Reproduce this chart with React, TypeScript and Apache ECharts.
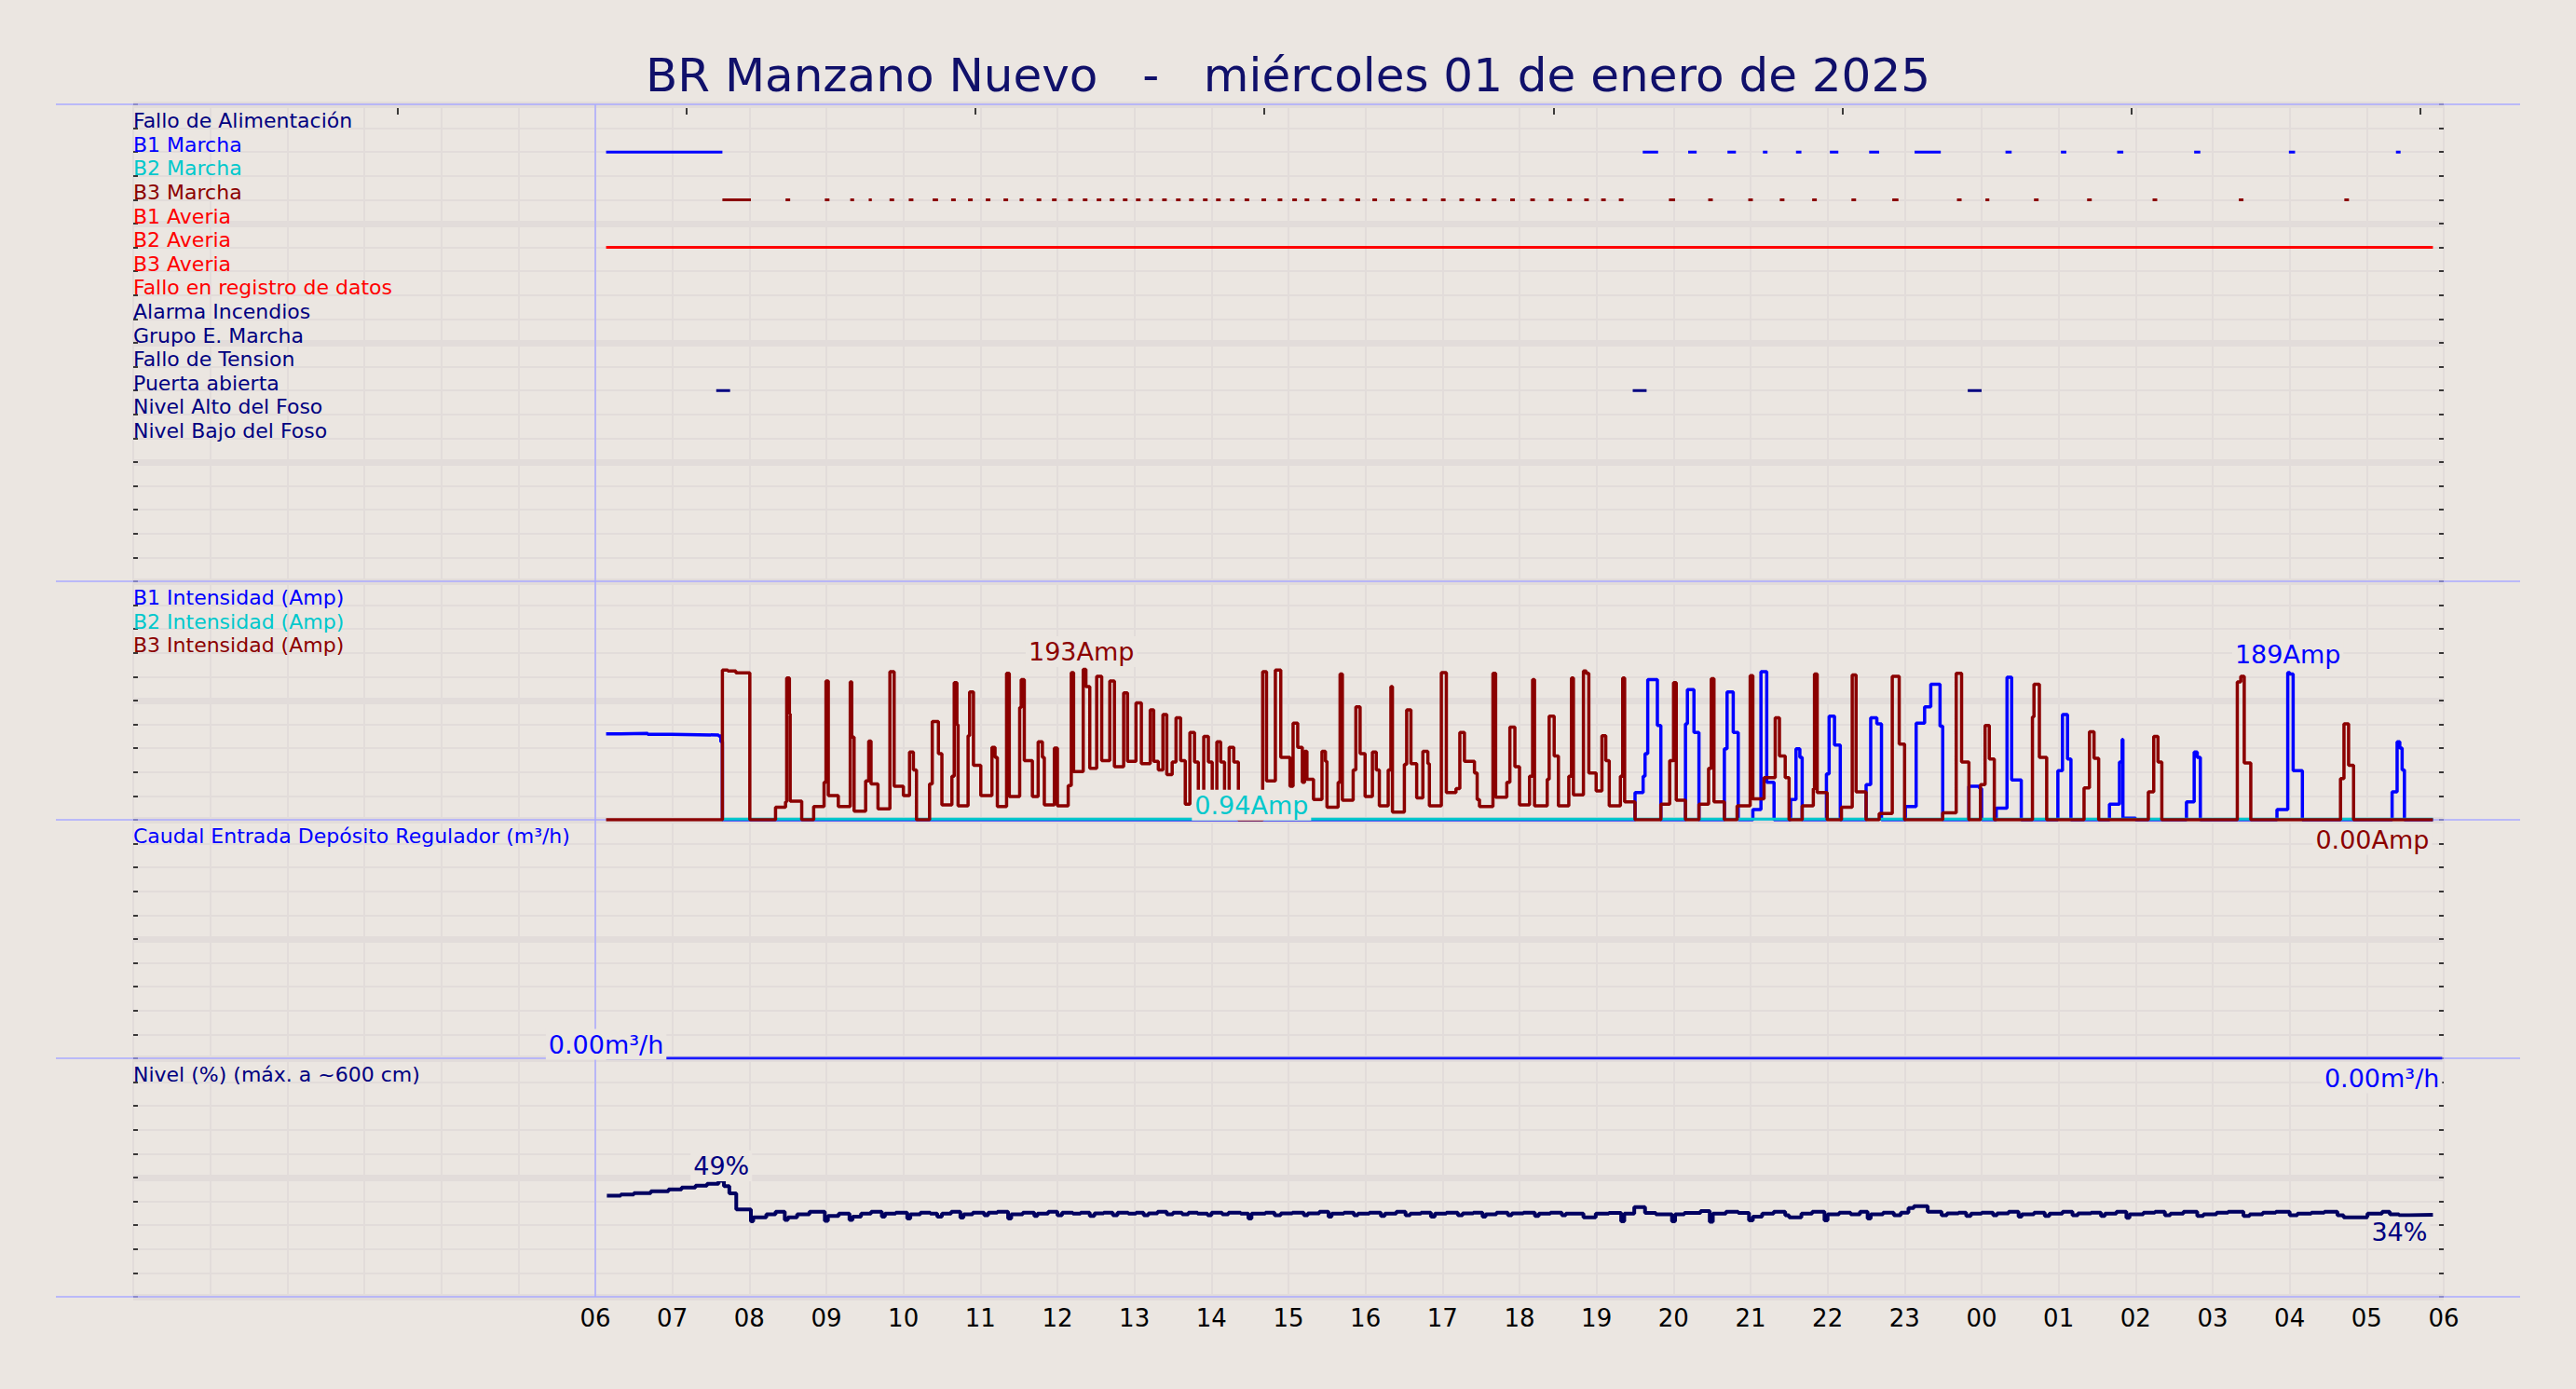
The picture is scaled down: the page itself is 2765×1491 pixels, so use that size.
import React, { useEffect, useRef } from "react";
import * as echarts from "echarts";

const FONT = "DejaVu Sans";
const BG = "#ebe6e1";
const GRID = "#e2dcda";
const SEP = "#aaaaff";
const NAVY = "#000080";
const BLUE = "#0000ff";
const CYAN = "#00c8cc";
const DARKRED = "#8b0000";
const RED = "#ff0000";
const TITLE_COLOR = "#10106a";

const TITLE = "BR Manzano Nuevo   -   miércoles 01 de enero de 2025";

// x axis: hours since 00:00 (0..30)
const xTickLabels = ["06", "07", "08", "09", "10", "11", "12", "13", "14", "15", "16", "17", "18", "19", "20", "21", "22", "23", "00", "01", "02", "03", "04", "05", "06"];
const topTickHours = [3.435, 7.186, 10.937, 14.688, 18.44, 22.19, 25.94, 29.69];

const statusLabels = ["Fallo de Alimentación", "B1 Marcha", "B2 Marcha", "B3 Marcha", "B1 Averia", "B2 Averia", "B3 Averia", "Fallo en registro de datos", "Alarma Incendios", "Grupo E. Marcha", "Fallo de Tension", "Puerta abierta", "Nivel Alto del Foso", "Nivel Bajo del Foso"];
const statusColors = [NAVY, BLUE, CYAN, DARKRED, RED, RED, RED, RED, NAVY, NAVY, NAVY, NAVY, NAVY, NAVY];

// status segments [start, end] in hours
const b1MarchaSegs = [[6.14, 7.65], [19.6, 19.8], [20.19, 20.3], [20.7, 20.81], [21.16, 21.22], [21.59, 21.66], [22.03, 22.14], [22.54, 22.67], [23.13, 23.47], [24.31, 24.39], [25.03, 25.1], [25.76, 25.84], [26.76, 26.84], [27.99, 28.07], [29.38, 29.44]];
const b3MarchaSegs = [[7.65, 8.02], [8.47, 8.53], [8.98, 9.04], [9.31, 9.36], [9.55, 9.59], [9.82, 9.88], [10.07, 10.13], [10.38, 10.45], [10.62, 10.68], [10.84, 10.9], [11.07, 11.13], [11.3, 11.36], [11.51, 11.56], [11.73, 11.79], [11.93, 11.99], [12.14, 12.2], [12.33, 12.39], [12.51, 12.57], [12.68, 12.74], [12.85, 12.91], [13.02, 13.08], [13.19, 13.24], [13.36, 13.42], [13.54, 13.6], [13.71, 13.77], [13.89, 13.95], [14.06, 14.12], [14.24, 14.3], [14.43, 14.49], [14.65, 14.71], [14.86, 14.92], [15.05, 15.11], [15.21, 15.27], [15.43, 15.49], [15.66, 15.72], [15.87, 15.93], [16.09, 16.15], [16.32, 16.38], [16.53, 16.59], [16.74, 16.8], [16.98, 17.04], [17.22, 17.28], [17.43, 17.49], [17.64, 17.7], [17.88, 17.94], [18.14, 18.2], [18.38, 18.44], [18.62, 18.68], [18.84, 18.9], [19.06, 19.12], [19.29, 19.35], [19.94, 20.02], [20.45, 20.51], [20.97, 21.03], [21.38, 21.44], [21.8, 21.86], [22.31, 22.37], [22.84, 22.92], [23.68, 23.74], [24.05, 24.1], [24.68, 24.74], [25.37, 25.43], [26.22, 26.28], [27.34, 27.4], [28.71, 28.77]];
const b2AveriaSegs = [[6.14, 29.86]];
const puertaSegs = [[7.57, 7.75], [19.47, 19.65], [23.82, 24.0]];

const intensityLabels = ["B1 Intensidad (Amp)", "B2 Intensidad (Amp)", "B3 Intensidad (Amp)"];
const intensityColors = [BLUE, CYAN, DARKRED];
const caudalLabel = "Caudal Entrada Depósito Regulador (m³/h)";
const nivelLabel = "Nivel (%) (máx. a ~600 cm)";

// intensity steps [hour, amps]
const b1Amp = [[6.14, 110.2], [6.33, 110.9], [6.68, 109.6], [6.99, 108.8], [7.6, 107.5], [7.63, 100], [7.65, 0],
  [19.5, 35], [19.605, 56], [19.63, 85], [19.665, 180], [19.79, 121], [19.835, 0],
  [20.155, 123], [20.18, 167], [20.265, 112], [20.33, 0],
  [20.66, 91], [20.695, 164], [20.775, 112], [20.84, 0],
  [21.03, 13], [21.135, 190], [21.21, 48], [21.305, 0],
  [21.52, 26], [21.59, 91], [21.64, 80], [21.67, 0],
  [21.985, 59], [22.02, 133], [22.09, 96], [22.165, 0],
  [22.5, 45], [22.56, 131], [22.64, 123], [22.7, 0],
  [23.01, 17], [23.15, 124], [23.26, 145], [23.34, 174], [23.46, 120], [23.495, 0],
  [23.835, 43], [23.975, 40], [24.0, 0],
  [24.19, 15], [24.33, 183], [24.39, 51], [24.515, 0],
  [24.99, 63], [25.05, 135], [25.115, 78], [25.16, 0],
  [25.66, 20], [25.79, 74], [25.825, 103], [25.835, 2], [26.0, 0],
  [26.66, 23], [26.76, 87], [26.8, 80], [26.84, 0],
  [27.835, 13], [27.975, 189], [28.0, 187], [28.045, 63], [28.165, 0],
  [29.33, 36], [29.395, 100], [29.43, 92], [29.46, 64], [29.49, 0], [29.86, 0]];
const b2Amp = [[7.65, 0.94], [29.86, 0.94]];
const b3Amp = [[6.14, 0], [7.65, 192], [7.72, 191], [7.825, 188.6], [8.006, 0],
  [8.34, 16], [8.47, 23], [8.485, 182], [8.52, 136], [8.53, 24], [8.68, 0],
  [8.835, 17], [8.97, 48], [8.995, 178], [9.025, 31], [9.155, 17], [9.31, 177], [9.33, 106], [9.36, 11], [9.51, 50], [9.55, 101], [9.58, 46], [9.67, 14], [9.825, 190], [9.88, 43], [10.0, 31], [10.08, 87], [10.13, 64], [10.17, 0],
  [10.34, 46], [10.375, 126], [10.455, 85], [10.5, 19], [10.63, 56], [10.66, 176], [10.695, 122], [10.71, 18], [10.84, 108], [10.86, 164], [10.91, 70], [11.005, 31], [11.15, 93], [11.19, 80], [11.22, 17], [11.34, 188], [11.375, 30], [11.51, 144], [11.53, 180], [11.57, 76], [11.675, 30], [11.75, 100], [11.805, 80], [11.83, 19], [11.96, 92], [12.0, 18], [12.14, 44], [12.18, 189], [12.21, 62], [12.335, 193], [12.37, 171], [12.42, 66], [12.51, 184], [12.575, 76], [12.68, 178], [12.74, 68], [12.86, 163], [12.91, 75], [13.02, 150], [13.09, 72], [13.205, 141], [13.25, 75], [13.31, 64], [13.37, 135], [13.42, 58], [13.49, 74], [13.54, 131], [13.6, 76], [13.66, 20], [13.72, 112], [13.78, 74], [13.83, 20], [13.9, 107], [13.96, 74], [14.01, 20], [14.07, 100], [14.12, 74], [14.17, 20], [14.23, 93], [14.29, 74], [14.35, 0],
  [14.665, 190], [14.715, 50], [14.83, 192], [14.9, 80], [15.02, 43], [15.06, 124], [15.12, 93], [15.18, 48], [15.21, 88], [15.24, 52], [15.325, 26], [15.435, 88], [15.48, 75], [15.5, 16], [15.645, 48], [15.67, 187], [15.7, 25], [15.84, 64], [15.875, 145], [15.93, 85], [15.995, 30], [16.09, 87], [16.14, 64], [16.18, 18], [16.295, 64], [16.33, 171], [16.35, 10], [16.505, 71], [16.535, 141], [16.59, 72], [16.665, 28], [16.745, 88], [16.81, 72], [16.83, 18], [16.985, 189], [17.05, 35], [17.175, 40], [17.225, 112], [17.285, 75], [17.415, 60], [17.45, 26], [17.48, 17], [17.655, 188], [17.69, 29], [17.835, 48], [17.875, 119], [17.94, 68], [18.0, 19], [18.13, 56], [18.17, 180], [18.195, 18], [18.36, 52], [18.385, 133], [18.45, 82], [18.505, 18], [18.64, 56], [18.675, 182], [18.7, 32], [18.83, 191], [18.865, 188], [18.9, 60], [18.995, 37], [19.07, 108], [19.12, 76], [19.165, 18], [19.31, 56], [19.34, 182], [19.365, 23], [19.5, 0],
  [19.835, 20], [19.95, 76], [20.0, 176], [20.035, 25], [20.155, 0],
  [20.33, 20], [20.455, 66], [20.49, 181], [20.525, 23], [20.66, 0],
  [20.825, 18], [20.995, 185], [21.03, 27], [21.175, 54], [21.32, 131], [21.375, 82], [21.45, 54], [21.5, 0],
  [21.67, 18], [21.815, 40], [21.83, 187], [21.865, 35], [21.995, 0],
  [22.18, 16], [22.32, 186], [22.37, 36], [22.5, 0],
  [22.67, 8], [22.84, 184], [22.93, 97], [23.0, 0],
  [23.495, 9], [23.67, 188], [23.74, 74], [23.835, 0],
  [23.985, 45], [24.045, 121], [24.1, 78], [24.165, 0],
  [24.66, 132], [24.68, 174], [24.75, 80], [24.845, 0],
  [25.33, 41], [25.4, 113], [25.46, 79], [25.52, 0],
  [26.165, 36], [26.235, 107], [26.29, 74], [26.34, 0],
  [27.32, 177], [27.365, 184], [27.41, 73], [27.495, 0],
  [28.66, 53], [28.705, 123], [28.765, 70], [28.83, 0],
  [29.86, 0]];

const caudal = [[6.14, 0], [29.98, 0]];

const nivel = [[6.15, 42.4], [6.33, 42.9], [6.5, 43.5], [6.72, 44.2], [6.95, 45.0], [7.12, 45.8], [7.3, 46.6], [7.45, 47.4], [7.6, 48.6], [7.67, 46.4], [7.74, 43.4], [7.83, 36.6], [8.02, 31.6], [8.05, 33.3], [8.22, 34.6], [8.34, 35.6], [8.46, 32.2], [8.5, 33.3], [8.62, 34.6], [8.78, 35.6], [8.98, 31.8], [9.02, 33.9], [9.16, 34.9], [9.3, 32.2], [9.34, 33.6], [9.45, 34.9], [9.58, 35.6], [9.72, 33.6], [9.76, 34.9], [9.9, 35.3], [10.05, 32.8], [10.09, 34.6], [10.22, 35.3], [10.35, 34.9], [10.44, 33.6], [10.5, 34.9], [10.62, 35.6], [10.74, 33.2], [10.78, 34.6], [10.9, 35.3], [11.05, 34.2], [11.1, 35.3], [11.22, 35.6], [11.36, 32.8], [11.4, 34.6], [11.55, 35.3], [11.7, 33.9], [11.74, 34.9], [11.88, 35.6], [12.0, 34.2], [12.06, 35.3], [12.2, 34.9], [12.3, 35.3], [12.42, 33.9], [12.48, 35.0], [12.6, 35.3], [12.72, 34.2], [12.78, 35.3], [12.92, 34.9], [13.02, 35.3], [13.12, 34.2], [13.18, 35.0], [13.3, 35.6], [13.42, 34.6], [13.5, 35.3], [13.62, 34.6], [13.7, 35.3], [13.82, 34.9], [13.95, 34.2], [14.0, 35.3], [14.14, 34.6], [14.22, 35.3], [14.38, 34.9], [14.48, 32.8], [14.52, 34.9], [14.7, 35.3], [14.82, 34.2], [14.9, 35.0], [15.05, 35.3], [15.2, 34.2], [15.25, 35.0], [15.4, 35.6], [15.52, 33.6], [15.56, 34.9], [15.72, 35.3], [15.85, 34.2], [15.9, 34.9], [16.05, 35.3], [16.2, 33.9], [16.25, 34.9], [16.4, 35.6], [16.52, 34.2], [16.58, 34.9], [16.72, 35.3], [16.85, 33.6], [16.9, 34.9], [17.05, 35.3], [17.2, 34.2], [17.26, 35.0], [17.4, 35.3], [17.52, 33.6], [17.56, 34.6], [17.7, 35.3], [17.85, 34.2], [17.9, 35.0], [18.05, 35.3], [18.2, 33.9], [18.25, 34.9], [18.4, 35.3], [18.55, 34.2], [18.6, 34.9], [18.83, 33.3], [18.99, 34.9], [19.16, 35.2], [19.32, 31.6], [19.36, 34.9], [19.49, 37.6], [19.63, 35.2], [19.77, 34.6], [19.98, 31.6], [20.02, 34.6], [20.14, 35.2], [20.35, 35.9], [20.47, 31.4], [20.51, 34.9], [20.68, 35.6], [20.84, 35.2], [20.98, 32.0], [21.03, 33.6], [21.15, 34.9], [21.3, 35.6], [21.45, 34.2], [21.5, 33.3], [21.66, 34.9], [21.8, 35.6], [21.96, 32.0], [22.0, 34.6], [22.15, 35.3], [22.3, 34.6], [22.42, 35.6], [22.52, 32.8], [22.56, 34.6], [22.72, 35.3], [22.86, 34.2], [22.95, 35.3], [23.05, 37.2], [23.12, 38.0], [23.3, 35.6], [23.48, 34.2], [23.55, 35.0], [23.7, 35.3], [23.8, 33.9], [23.86, 34.9], [24.0, 35.3], [24.15, 34.2], [24.2, 35.0], [24.35, 35.6], [24.48, 33.6], [24.52, 34.6], [24.68, 35.3], [24.82, 33.9], [24.88, 34.9], [25.05, 35.6], [25.18, 34.2], [25.25, 35.0], [25.42, 35.3], [25.55, 33.9], [25.6, 34.9], [25.75, 35.6], [25.88, 33.1], [25.92, 34.6], [26.1, 35.3], [26.25, 35.6], [26.38, 34.2], [26.45, 34.9], [26.62, 35.6], [26.8, 33.9], [26.88, 34.6], [27.05, 35.3], [27.2, 35.6], [27.4, 33.9], [27.48, 34.6], [27.65, 35.3], [27.82, 35.6], [28.0, 34.2], [28.1, 34.9], [28.28, 35.3], [28.45, 35.6], [28.62, 34.2], [28.7, 33.3], [29.01, 34.9], [29.2, 35.6], [29.3, 34.6], [29.42, 34.2], [29.55, 34.4], [29.86, 34.4]];

// annotation texts anchored at data points
const annotations = [
  { text: "193Amp", color: DARKRED, grid: 1, data: b3Amp, t: 12.335, align: "center", dx: -2, dy: -19 },
  { text: "189Amp", color: BLUE, grid: 1, data: b1Amp, t: 27.975, align: "center", dx: 0, dy: -19 },
  { text: "0.94Amp", color: CYAN, grid: 1, data: b2Amp, t: 14.52, align: "center", dx: 0, dy: -15 },
  { text: "0.00Amp", color: DARKRED, grid: 1, data: b3Amp, t: 29.86, align: "right", dx: -1, dy: 21 },
  { text: "0.00m³/h", color: BLUE, grid: 2, data: caudal, t: 6.14, align: "center", dx: 0, dy: -15 },
  { text: "0.00m³/h", color: BLUE, grid: 2, data: caudal, t: 29.98, align: "right", dx: 0, dy: 21 },
  { text: "49%", color: NAVY, grid: 3, data: nivel, t: 7.6, align: "center", dx: 3, dy: -16 },
  { text: "34%", color: NAVY, grid: 3, data: nivel, t: 29.86, align: "right", dx: -3, dy: 19 },
];

// layout
const W = 2765;
const H = 1491;
const LEFT = 143;
const RIGHT = 142;
const UNIT = 25.6;
const gridTops = [112, 624, 880, 1136];
const gridHeights = [512, 256, 256, 256];
const yRanges = [
  { min: -1, max: 19, interval: 1, thick: 5, inverse: true },
  { min: 0, max: 306, interval: 30.6, thick: 153, inverse: false },
  { min: 0, max: 10, interval: 1, thick: 5, inverse: false },
  { min: 0, max: 100, interval: 10, thick: 50, inverse: false },
];

const valueAt = (data: number[][], t: number) => {
  let v = data[0][1];
  for (const [x, y] of data) if (x <= t + 1e-9) v = y;
  return v;
};

const segPoints = (segs: number[][], row: number) => {
  const out: (number | null)[][] = [];
  segs.forEach(([s, e]) => {
    out.push([s, row], [e, row], [e, null]);
  });
  return out;
};

function buildOption(): any {
  const grids = gridTops.map((top, i) => ({ left: LEFT, right: RIGHT, top, height: gridHeights[i], containLabel: false, show: false }));
  const xAxes: any[] = gridTops.map((_, g) => ({
    type: "value",
    gridIndex: g,
    min: 0,
    max: 30,
    interval: 1,
    axisLine: { show: false, onZero: false },
    axisTick: { show: false },
    splitLine: { show: true, lineStyle: { color: GRID, width: 2 } },
    axisLabel:
      g === 3
        ? {
            show: true,
            margin: 10,
            fontSize: 26,
            fontFamily: FONT,
            color: "#000",
            showMaxLabel: true,
            showMinLabel: true,
            formatter: (v: number) => (v >= 6 ? xTickLabels[Math.round(v) - 6] : ""),
          }
        : { show: false },
  }));
  xAxes.push({
    type: "value",
    gridIndex: 0,
    position: "top",
    min: 0,
    max: 30,
    offset: -4,
    axisLine: { show: false, onZero: false },
    axisLabel: { show: false },
    splitLine: { show: false },
    axisTick: { show: true, inside: true, length: 7, customValues: topTickHours, lineStyle: { color: "#000", width: 1.5 } },
  });

  const yAxes: any[] = [];
  yRanges.forEach((r, g) => {
    const base = { type: "value", gridIndex: g, min: r.min, max: r.max, inverse: r.inverse, axisLine: { show: false, onZero: false }, axisLabel: { show: false } };
    yAxes.push({ ...base, interval: r.interval, position: "left", axisTick: { show: true, inside: true, length: 5, lineStyle: { color: "#000", width: 1.5 } }, splitLine: { show: true, lineStyle: { color: GRID, width: 2 } } });
    yAxes.push({ ...base, interval: r.interval, position: "right", axisTick: { show: true, inside: true, length: 5, lineStyle: { color: "#000", width: 1.5 } }, splitLine: { show: false } });
    yAxes.push({ ...base, interval: r.thick, position: "left", axisTick: { show: false }, splitLine: { show: true, lineStyle: { color: GRID, width: 7 } } });
  });

  const line = (data: any[], g: number, color: string, width: number, step: any = false, z = 2) => ({
    type: "line",
    xAxisIndex: g,
    yAxisIndex: g * 3,
    data,
    step,
    symbol: "none",
    showSymbol: false,
    connectNulls: false,
    animation: false,
    z,
    lineStyle: { color, width },
    itemStyle: { color },
    emphasis: { disabled: true },
  });

  const series = [
    line(segPoints(b1MarchaSegs, 1), 0, BLUE, 3),
    line(segPoints(b3MarchaSegs, 3), 0, DARKRED, 3),
    line(segPoints(b2AveriaSegs, 5), 0, RED, 3),
    line(segPoints(puertaSegs, 11), 0, NAVY, 3),
    line(b1Amp, 1, BLUE, 3.5, "end"),
    line(b2Amp, 1, CYAN, 3, "end"),
    line(b3Amp, 1, DARKRED, 3.5, "end"),
    line(caudal, 2, "#1a1aff", 3, "end"),
    line(nivel, 3, "#000060", 4, "end"),
  ];

  return {
    animation: false,
    backgroundColor: BG,
    textStyle: { fontFamily: FONT },
    grid: grids,
    xAxis: xAxes,
    yAxis: yAxes,
    series,
  };
}

function buildGraphics(chart: any): any[] {
  const P = (g: number, t: number, v: number) => chart.convertToPixel({ xAxisIndex: g, yAxisIndex: g * 3 }, [t, v]) as number[];
  const els: any[] = [];
  els.push({
    type: "text",
    x: W / 2,
    y: 81,
    z: 100,
    style: { text: TITLE, fill: TITLE_COLOR, fontSize: 50, fontFamily: FONT, align: "center", verticalAlign: "middle" },
  });
  const sepYs = [...gridTops, gridTops[3] + gridHeights[3]];
  sepYs.forEach((y) => {
    els.push({ type: "line", z: 1, shape: { x1: 60, y1: y, x2: 2705, y2: y }, style: { stroke: SEP, lineWidth: 1.5 } });
  });
  const x6 = P(0, 6, 0)[0];
  els.push({ type: "line", z: 1, shape: { x1: x6, y1: sepYs[0], x2: x6, y2: sepYs[4] }, style: { stroke: SEP, lineWidth: 1.5 } });

  const addLabel = (text: string, color: string, g: number, k: number) => {
    els.push({
      type: "text",
      x: LEFT,
      y: gridTops[g] + UNIT * (k + 1) - 8,
      z: 100,
      style: { text, fill: color, fontSize: 22, fontFamily: FONT, align: "left", verticalAlign: "middle" },
    });
  };
  statusLabels.forEach((s, k) => addLabel(s, statusColors[k], 0, k));
  intensityLabels.forEach((s, k) => addLabel(s, intensityColors[k], 1, k));
  addLabel(caudalLabel, BLUE, 2, 0);
  addLabel(nivelLabel, NAVY, 3, 0);

  annotations.forEach((a) => {
    const v = valueAt(a.data, a.t);
    const [px, py] = P(a.grid, a.t, v);
    els.push({
      type: "text",
      x: px + a.dx,
      y: py + a.dy,
      z: 110,
      style: {
        text: a.text,
        fill: a.color,
        fontSize: 27,
        fontFamily: FONT,
        align: a.align,
        verticalAlign: "middle",
        backgroundColor: BG,
        padding: [2, 3, 4, 3],
      },
    });
  });
  return els;
}

export default function App() {
  const ref = useRef<HTMLDivElement>(null);
  useEffect(() => {
    document.body.style.margin = "0";
    document.body.style.overflow = "hidden";
    document.body.style.background = BG;
    const chart = echarts.init(ref.current!, null, { renderer: "svg" });
    chart.setOption(buildOption());
    chart.setOption({ graphic: { elements: buildGraphics(chart) } });
    return () => chart.dispose();
  }, []);
  return <div ref={ref} style={{ width: W, height: H }} />;
}
